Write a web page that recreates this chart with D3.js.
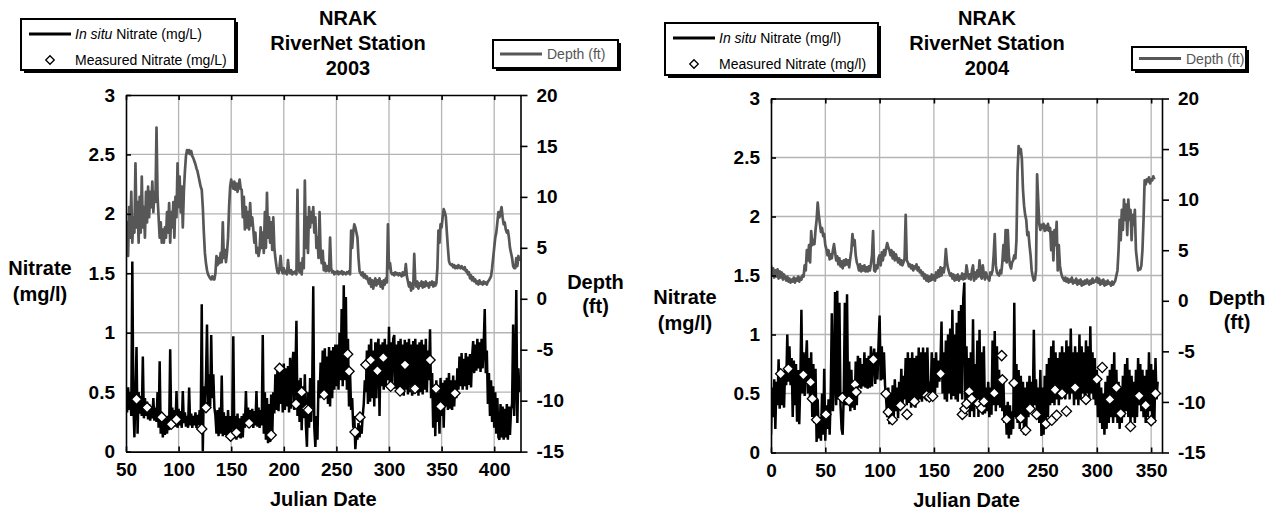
<!DOCTYPE html>
<html lang="en">
<head>
<meta charset="utf-8">
<title>NRAK RiverNet Station</title>
<script src="https://cdn.jsdelivr.net/npm/d3@7/dist/d3.min.js"></script>
<style>
  body { margin: 0; background: #fff; }
  text { font-family: "Liberation Sans", Arial, sans-serif; }
</style>
</head>
<body>
<script>

// ---------- data ----------
var nitrateTicks = [0, 0.5, 1, 1.5, 2, 2.5, 3];
var depthTicks = [-15, -10, -5, 0, 5, 10, 15, 20];
var xTicks2003 = [50, 100, 150, 200, 250, 300, 350, 400];
var xTicks2004 = [0, 50, 100, 150, 200, 250, 300, 350];

// daily readings, first day = start
var start2003 = 50;
var nitrate2003 = [
  0.45,0.33,0.54,0.35,0.50,0.30,1.60,0.40,0.12,0.48,
  0.88,0.15,0.50,0.32,0.47,0.30,0.80,0.28,0.45,0.30,
  0.42,0.27,0.40,0.26,0.38,0.28,0.45,0.26,0.37,0.25,
  0.50,0.20,0.76,0.15,0.32,0.12,0.30,0.14,0.28,0.15,
  0.30,0.18,0.86,0.20,0.37,0.22,0.35,0.21,0.51,0.20,
  0.36,0.22,0.34,0.20,0.51,0.24,0.33,0.21,0.30,0.20,
  0.54,0.22,0.32,0.20,0.30,0.22,0.33,0.20,0.31,0.22,
  0.35,0.22,1.24,0.00,0.55,0.38,0.60,1.07,0.40,0.65,
  0.38,0.98,0.45,0.65,0.37,0.30,0.15,0.35,0.13,0.37,
  0.15,0.64,0.13,0.33,0.14,0.30,0.12,0.35,0.13,0.30,
  0.14,0.25,0.97,0.11,0.30,0.10,0.32,0.12,0.28,0.11,
  0.30,0.12,0.32,0.20,0.51,0.22,0.37,0.20,0.35,0.22,
  0.36,0.20,0.34,0.22,0.51,0.21,0.37,0.20,0.35,0.22,
  0.98,0.15,0.50,0.10,0.45,0.07,0.40,0.08,0.48,0.12,
  0.50,0.32,0.65,0.35,0.70,0.34,0.72,0.40,0.68,0.33,
  0.74,0.35,0.70,0.38,0.72,0.33,0.79,0.36,0.70,0.84,
  0.35,0.65,1.10,0.30,0.60,0.25,0.62,0.18,0.55,0.28,
  0.65,0.22,0.04,0.50,0.20,0.62,0.25,0.55,1.39,0.20,
  0.04,0.30,0.10,0.60,0.45,0.75,0.48,0.85,0.46,0.87,
  0.45,0.80,0.40,0.88,0.38,0.85,0.45,0.88,0.52,0.90,
  0.55,0.90,0.52,1.00,0.60,1.20,0.55,1.40,0.60,1.30,
  0.52,0.95,0.38,0.66,0.35,0.45,0.20,0.30,0.02,0.15,
  0.10,0.24,0.12,0.22,0.15,0.30,0.40,0.60,0.50,0.85,
  0.40,0.90,0.42,0.95,0.45,0.85,0.38,0.92,0.45,0.88,
  0.95,0.30,0.90,0.55,0.92,0.52,0.95,0.55,0.90,0.60,
  1.05,0.52,0.92,0.55,0.95,0.98,0.53,0.90,0.50,0.93,
  0.48,0.95,0.50,0.90,0.47,0.94,0.52,0.92,0.48,0.95,
  0.50,0.90,0.47,0.93,0.55,0.95,0.50,0.90,0.47,0.92,
  0.50,0.94,0.48,0.90,0.52,0.95,0.50,0.85,0.60,1.03,
  0.45,0.66,0.20,0.55,0.13,0.60,0.25,0.50,0.15,0.62,
  0.30,0.58,0.20,0.60,0.38,0.62,0.35,0.66,0.36,0.60,
  0.35,0.64,0.38,0.60,0.45,0.70,0.52,0.80,0.55,0.83,
  0.52,0.78,0.55,0.83,0.52,0.80,0.56,0.82,0.54,0.80,
  0.93,0.66,0.90,0.68,0.95,0.70,0.92,0.67,0.95,0.70,
  0.90,1.20,0.66,0.85,0.40,0.66,0.30,0.60,0.25,0.55,
  0.20,0.50,0.15,0.45,0.12,0.10,0.40,0.12,0.38,0.10,
  0.36,0.12,0.40,0.10,0.38,0.14,0.35,0.40,1.07,0.30,
  0.60,1.36,0.24,0.70,0.50
];
var depth2003 = [
  5.0,7.5,4.2,9.0,6.0,10.5,5.5,8.0,6.5,13.3,
  7.0,9.5,5.5,10.0,6.5,12.0,7.0,9.0,6.0,10.5,
  7.5,11.0,8.0,10.5,9.0,11.5,8.5,10.5,9.5,16.8,
  10.0,8.0,6.0,7.5,5.5,6.8,5.5,7.0,6.0,8.5,
  6.5,9.4,5.5,8.5,7.0,9.5,6.0,10.0,8.0,13.3,
  9.0,12.0,8.5,11.0,7.0,10.5,12.5,14.0,14.6,14.3,
  14.6,14.2,14.5,14.0,13.8,13.5,13.2,12.8,12.5,12.0,
  11.5,11.0,10.7,9.0,6.5,4.5,3.5,2.8,2.4,2.2,
  2.0,1.9,2.2,1.9,1.9,2.5,4.2,3.3,4.0,3.5,
  4.5,3.6,7.5,4.0,4.8,3.6,4.5,6.0,9.0,11.0,
  11.7,11.2,10.8,11.5,10.7,11.3,10.5,11.0,11.7,10.8,
  10.7,8.0,10.0,6.8,9.0,7.0,8.5,6.8,9.4,7.2,
  8.0,6.8,5.5,6.5,4.5,5.0,4.2,4.8,7.0,5.0,
  6.5,4.5,8.5,5.0,10.4,6.0,8.0,5.5,7.5,4.8,
  8.0,5.0,4.0,3.2,2.6,2.5,3.2,4.2,2.8,2.5,
  3.0,2.5,2.7,2.4,3.8,2.6,2.5,2.8,2.4,2.6,
  2.5,2.7,2.4,10.7,3.0,2.6,3.5,2.4,4.0,3.0,
  11.6,5.0,8.0,4.5,9.0,7.0,8.5,7.5,9.0,6.5,
  8.0,5.0,6.0,4.0,8.5,4.5,3.5,4.7,2.8,3.5,
  2.7,3.2,2.8,2.7,6.0,3.0,2.6,2.7,2.4,2.6,
  2.5,2.7,2.4,2.6,2.5,2.7,2.4,2.6,2.5,2.4,
  2.6,2.5,2.7,2.4,6.7,5.0,6.5,7.3,7.0,6.5,
  6.0,4.0,2.7,2.5,2.3,2.6,2.1,2.4,2.0,2.2,
  1.8,1.5,2.0,1.2,1.8,1.0,1.6,2.0,1.3,1.8,
  1.5,2.0,1.2,1.7,1.0,1.8,1.4,2.0,1.6,7.3,
  3.0,3.5,2.6,2.4,2.5,2.3,2.6,2.4,2.5,2.3,
  2.5,2.4,2.2,2.6,2.3,2.4,3.4,2.2,1.7,1.2,
  1.6,0.8,1.5,1.0,4.4,1.6,1.2,1.7,1.0,1.5,
  1.3,1.7,1.1,1.6,1.2,1.7,1.3,1.5,1.1,1.6,
  1.4,1.7,1.2,1.6,1.3,1.5,3.0,6.7,5.5,7.3,
  7.0,8.0,8.8,8.5,8.1,6.5,5.0,3.7,3.4,3.3,
  3.4,3.1,3.3,3.0,3.2,3.0,3.3,3.1,3.0,3.2,
  3.0,2.9,3.1,2.7,2.8,2.4,2.6,2.0,2.3,1.8,
  2.1,1.7,1.9,1.5,1.7,1.4,1.8,1.5,1.6,1.4,
  1.7,1.5,1.6,1.4,1.7,1.8,2.0,2.2,3.0,4.0,
  5.0,6.0,6.5,7.5,8.5,8.0,8.5,9.0,8.0,7.3,
  7.5,6.8,6.5,6.7,6.0,5.0,4.5,4.0,3.2,3.0,
  3.0,4.0,3.2,4.2,3.7
];
var measuredDay2003 = [60, 70, 84, 93, 98, 122, 126, 149.5, 155, 167, 188, 196, 211.6, 217, 221.7, 223.3,
  238.3, 260.7, 262, 267.7, 272.4, 278, 282.6, 289, 294.6, 301.6, 310.5, 315.2, 323, 324.7, 339, 344.7, 349, 362.7];
var measuredVal2003 = [0.44, 0.37, 0.29, 0.23, 0.27, 0.19, 0.37, 0.13, 0.16, 0.24, 0.14, 0.70, 0.40, 0.50, 0.36, 0.35,
  0.48, 0.82, 0.675, 0.165, 0.29, 0.73, 0.77, 0.68, 0.79, 0.55, 0.51, 0.73, 0.53, 0.53, 0.77, 0.53, 0.38, 0.49];

var start2004 = 0;
var nitrate2004 = [
  0.15,0.55,0.30,0.62,0.20,0.60,0.40,0.79,0.37,0.70,
  0.40,0.68,0.38,0.71,0.57,1.00,0.60,0.90,0.57,0.80,
  0.30,0.78,0.40,0.75,0.26,0.70,0.24,0.60,1.21,0.50,
  0.85,0.48,0.75,0.95,0.50,0.80,0.45,0.85,0.30,0.75,
  0.25,0.71,0.09,0.45,0.12,0.30,0.10,0.50,0.15,0.71,
  0.10,0.40,0.20,0.45,0.15,0.50,1.18,0.35,0.60,1.36,
  0.40,1.37,0.45,1.27,0.40,0.20,0.15,0.50,1.27,0.40,
  1.34,0.40,0.77,0.35,0.70,0.38,0.60,0.36,0.77,0.40,
  0.82,0.55,0.80,0.54,0.75,0.56,0.85,0.55,0.80,0.54,
  0.82,0.55,0.90,0.56,0.80,0.88,0.58,0.85,0.62,0.92,
  1.16,0.61,0.90,0.62,0.85,0.57,0.45,0.30,0.55,0.24,
  0.50,0.28,0.57,0.30,0.62,0.35,0.55,0.29,0.60,0.40,
  0.71,0.38,0.65,0.45,0.80,0.40,0.85,0.42,0.80,0.38,
  0.85,0.45,0.80,0.38,0.82,0.43,0.89,0.45,0.85,0.43,
  0.89,0.50,0.85,0.45,0.89,0.50,0.60,0.46,0.85,0.45,
  0.80,0.50,0.85,0.55,0.78,0.60,0.75,1.11,0.50,0.85,
  0.45,0.95,0.43,1.00,0.50,1.05,0.45,1.21,0.48,1.00,
  0.45,1.10,0.43,1.20,0.50,1.25,0.45,1.30,1.44,0.40,
  0.90,0.35,0.80,0.30,0.85,0.35,1.13,0.30,0.75,0.40,
  0.95,0.30,1.04,0.35,0.85,0.32,0.90,0.33,0.55,0.35,
  0.60,0.30,0.55,0.32,0.95,0.40,1.03,0.35,0.90,0.40,
  0.70,0.38,0.65,0.35,0.60,0.25,0.40,0.15,0.43,0.12,
  0.40,0.15,0.35,0.20,1.27,0.30,0.75,0.25,0.70,0.20,
  0.65,0.25,0.60,0.15,0.55,0.20,0.60,0.30,0.65,0.35,
  0.60,0.35,1.04,0.40,0.62,0.30,0.55,0.25,0.70,0.14,
  0.55,0.15,0.65,0.20,0.75,0.30,0.80,0.40,0.90,0.42,
  0.95,0.40,0.85,0.45,0.80,0.40,0.85,0.45,0.90,0.50,
  0.85,0.45,0.95,0.50,0.90,0.45,1.05,0.50,0.85,0.40,
  0.90,0.45,0.85,0.40,1.00,0.45,0.90,0.50,0.85,0.45,
  0.95,0.50,0.90,0.45,1.07,0.50,0.85,0.45,0.80,0.40,
  0.70,0.30,0.60,0.25,0.55,0.20,0.50,0.15,0.60,0.20,
  0.65,0.25,0.70,0.30,0.75,0.25,0.85,0.30,0.70,0.25,
  0.60,0.20,0.55,0.25,0.65,0.30,0.75,0.35,0.80,0.30,
  0.70,0.25,0.65,0.30,0.60,0.25,0.70,0.30,0.80,0.40,
  0.75,0.35,0.70,0.30,0.65,0.25,0.70,0.30,0.85,0.35,
  0.75,0.30,0.70,0.25,0.80,0.45,0.60
];
var depth2004 = [
  3.5,2.5,3.2,2.3,3.0,2.4,3.1,2.2,2.9,2.3,
  2.8,2.1,2.6,2.3,2.0,2.4,1.9,2.2,1.8,2.1,
  1.9,2.3,1.8,2.2,2.0,2.4,1.9,2.3,2.1,2.5,
  2.4,3.5,3.0,5.0,4.0,5.5,3.8,6.9,5.5,6.0,
  5.6,7.0,8.0,9.7,8.5,7.6,6.8,7.2,6.4,6.6,
  5.5,5.1,4.5,5.0,4.1,4.6,4.2,5.0,5.6,4.8,
  4.0,4.4,3.6,4.2,3.4,3.9,3.2,4.0,3.5,4.1,
  3.6,4.0,3.3,4.2,5.0,6.6,5.5,6.0,4.5,3.8,
  3.5,3.0,3.6,2.9,3.4,3.0,3.5,2.9,3.3,2.9,
  3.4,3.0,3.6,4.5,6.9,3.0,2.9,3.5,3.2,4.2,
  4.5,3.5,4.8,4.0,5.0,4.5,5.2,5.7,5.3,5.0,
  4.5,5.0,4.2,4.8,4.0,4.6,4.2,3.8,4.2,3.6,
  4.0,3.5,3.8,4.2,8.5,4.0,3.8,3.4,3.6,3.2,
  3.5,3.0,3.4,3.2,3.6,3.0,3.3,2.8,3.0,2.5,
  2.8,2.2,2.6,2.0,2.5,1.9,2.4,2.0,2.6,2.1,
  2.5,2.0,2.8,2.3,3.0,2.4,3.3,2.5,3.2,2.8,
  3.5,5.1,3.8,3.2,2.8,2.5,2.7,2.2,2.6,2.0,
  2.5,2.1,2.6,2.0,2.4,2.2,2.7,2.1,2.6,2.2,
  3.5,2.8,2.2,2.6,2.1,3.0,3.5,2.0,2.8,2.2,
  3.0,2.4,4.0,2.5,2.2,3.5,2.6,2.1,2.8,2.4,
  2.2,2.0,2.8,2.6,3.0,4.5,6.6,3.5,2.8,2.6,
  2.5,3.0,2.7,3.8,5.5,4.0,7.0,3.8,7.0,4.5,
  3.5,3.2,3.8,4.0,4.5,4.2,6.0,12.7,15.3,14.6,
  15.0,14.0,11.0,9.4,8.5,8.0,6.5,6.8,5.5,4.5,
  3.0,2.4,2.0,2.1,3.0,12.5,10.0,7.6,7.0,7.5,
  7.2,7.6,6.9,7.4,7.0,7.6,6.9,7.2,5.0,6.8,
  4.0,7.0,5.5,7.8,3.0,5.5,3.5,2.8,2.4,2.2,
  2.0,2.3,1.9,2.2,1.8,2.1,1.9,2.3,1.7,2.0,
  1.8,2.2,1.6,2.0,1.7,2.1,1.5,1.9,1.6,2.0,
  1.7,2.1,1.8,1.6,2.0,1.7,2.2,1.8,2.0,1.9,
  2.3,1.8,2.2,1.6,2.0,1.7,2.1,1.5,1.9,1.6,
  2.0,1.7,1.8,1.5,1.9,1.6,1.8,2.0,2.5,3.0,
  5.0,8.0,6.0,9.0,7.0,10.0,8.0,9.5,6.5,10.0,
  8.0,9.0,6.0,8.5,7.5,9.0,5.0,4.0,3.0,3.2,
  3.1,3.5,5.0,8.0,11.9,11.5,12.0,11.8,12.2,11.6,
  12.0,11.9,12.3,12.0
];
var measuredDay2004 = [8.9, 16, 29.8, 36.5, 38.1, 42, 50.6, 65.7, 71.8, 77.3, 78.3, 94.2, 105.9, 108, 111.7, 119.1,
  125.2, 132, 143.3, 145.8, 148.9, 156.2, 176.2, 178.6, 180.2, 182.6, 184.8, 190.9, 194, 196.1, 205.6, 212.4, 213,
  217, 223.8, 229.9, 234.5, 238.5, 244.6, 253.2, 258.5, 261.5, 263,
  268, 272, 280, 290, 300, 305, 312, 318, 322, 331, 339, 345, 350, 354];
var measuredVal2004 = [0.667, 0.709, 0.658, 0.596, 0.456, 0.278, 0.323, 0.464, 0.44, 0.577, 0.512, 0.788, 0.498, 0.343,
  0.278, 0.399, 0.323, 0.433, 0.484, 0.47, 0.477, 0.667, 0.323, 0.371, 0.414, 0.518, 0.456, 0.414, 0.377, 0.433,
  0.503, 0.821, 0.616, 0.281, 0.588, 0.292, 0.188, 0.371, 0.323, 0.245, 0.273, 0.532, 0.315,
  0.50, 0.35, 0.55, 0.45, 0.62, 0.72, 0.45, 0.55, 0.33, 0.22, 0.48, 0.40, 0.27, 0.50];

// ---------- drawing ----------
var svg = d3.select("body").append("svg")
    .attr("width", 1269)
    .attr("height", 514);

var gridColor = "#b4b4b4",
    depthColor = "#575757";

function legendBox(x, y, w, h) {
  svg.append("rect").attr("x", x + 3).attr("y", y + 3).attr("width", w).attr("height", h).attr("fill", "#000");
  svg.append("rect").attr("x", x).attr("y", y).attr("width", w).attr("height", h)
     .attr("fill", "#fff").attr("stroke", "#000").attr("stroke-width", 2);
}

function drawPanel(p) {
  var xScale = d3.scaleLinear().domain(p.xDomain).range([p.left, p.right]);
  var yN = d3.scaleLinear().domain([0, 3]).range([p.bottom, p.top]);
  var yD = d3.scaleLinear().domain([-15, 20]).range([p.bottom, p.top]);

  var g = svg.append("g");

  // grid
  g.selectAll(".vgrid").data(p.xTicks.filter(function (d) { return d !== p.xDomain[0]; }))
    .enter().append("line")
      .attr("x1", function (d) { return xScale(d); }).attr("x2", function (d) { return xScale(d); })
      .attr("y1", p.top).attr("y2", p.bottom)
      .attr("stroke", gridColor).attr("stroke-width", 1.3);
  g.selectAll(".hgrid").data(nitrateTicks.slice(1, -1))
    .enter().append("line")
      .attr("x1", p.left).attr("x2", p.right)
      .attr("y1", function (d) { return yN(d); }).attr("y2", function (d) { return yN(d); })
      .attr("stroke", gridColor).attr("stroke-width", 1.3);

  var clipId = "clip" + p.id;
  svg.append("defs").append("clipPath").attr("id", clipId)
    .append("rect").attr("x", p.left).attr("y", p.top - 2)
    .attr("width", p.right - p.left).attr("height", p.bottom - p.top + 2);

  var plot = g.append("g").attr("clip-path", "url(#" + clipId + ")");

  var depthLine = d3.line()
      .x(function (d, i) { return xScale(p.start + i); })
      .y(function (d) { return yD(d); });
  plot.append("path").datum(p.depth)
      .attr("d", depthLine)
      .attr("fill", "none").attr("stroke", depthColor).attr("stroke-width", 2.7)
      .attr("stroke-linejoin", "round");

  var nitLine = d3.line()
      .x(function (d, i) { return xScale(p.start + i); })
      .y(function (d) { return yN(d); });
  plot.append("path").datum(p.nitrate)
      .attr("d", nitLine)
      .attr("fill", "none").attr("stroke", "#000").attr("stroke-width", 2.5)
      .attr("stroke-linejoin", "miter");

  var diamond = d3.symbol().type(d3.symbolSquare).size(52);
  g.selectAll(".meas").data(p.mDay)
    .enter().append("path")
      .attr("d", diamond)
      .attr("transform", function (d, i) {
        return "translate(" + xScale(d) + "," + yN(p.mVal[i]) + ") rotate(45)";
      })
      .attr("fill", "#fff").attr("stroke", "#000").attr("stroke-width", 1.3);

  // axes
  var bottomAxis = d3.axisBottom(xScale).tickValues(p.xTicks).tickSizeInner(-5).tickSizeOuter(0).tickPadding(11);
  var topAxis = d3.axisTop(xScale).tickValues(p.xTicks).tickSizeInner(-5).tickSizeOuter(0).tickFormat("");
  var leftAxis = d3.axisLeft(yN).tickValues(nitrateTicks).tickSizeInner(-5).tickSizeOuter(0).tickPadding(11)
      .tickFormat(function (d) { return String(d); });
  var rightAxis = d3.axisRight(yD).tickValues(depthTicks).tickSizeInner(7).tickSizeOuter(0).tickPadding(9)
      .tickFormat(function (d) { return String(d); });

  var axes = [
    g.append("g").attr("transform", "translate(0," + p.bottom + ")").call(bottomAxis),
    g.append("g").attr("transform", "translate(0," + p.top + ")").call(topAxis),
    g.append("g").attr("transform", "translate(" + p.left + ",0)").call(leftAxis),
    g.append("g").attr("transform", "translate(" + p.right + ",0)").call(rightAxis)
  ];
  axes.forEach(function (a) {
    a.selectAll("path, line").attr("stroke", "#000").attr("stroke-width", 1.6);
    a.selectAll("text").attr("font-size", 19).attr("font-weight", "bold").attr("fill", "#000")
      .attr("font-family", "'Liberation Sans', Arial, sans-serif");
  });

  // titles
  var title = svg.append("text").attr("text-anchor", "middle")
      .attr("font-size", 20).attr("font-weight", "bold");
  p.title.forEach(function (t, i) {
    title.append("tspan").attr("x", p.titleX).attr("y", 25 + i * 25).text(t);
  });

  svg.append("text").attr("x", (p.left + p.right) / 2).attr("y", p.bottom + 54)
      .attr("text-anchor", "middle").attr("font-size", 20).attr("font-weight", "bold").text("Julian Date");

  var nl = svg.append("text").attr("text-anchor", "middle").attr("font-size", 20).attr("font-weight", "bold");
  nl.append("tspan").attr("x", p.left - 86).attr("y", p.nitLabelY).text("Nitrate");
  nl.append("tspan").attr("x", p.left - 86).attr("y", p.nitLabelY + 26).text("(mg/l)");

  var dl = svg.append("text").attr("text-anchor", "middle").attr("font-size", 20).attr("font-weight", "bold");
  dl.append("tspan").attr("x", p.right + 75).attr("y", p.depthLabelY).text("Depth");
  dl.append("tspan").attr("x", p.right + 75).attr("y", p.depthLabelY + 24).text("(ft)");

  // nitrate legend
  var L = p.legN;
  legendBox(L.x, L.y, L.w, L.h);
  svg.append("line").attr("x1", L.x + 8).attr("x2", L.x + 50)
     .attr("y1", L.y + 15).attr("y2", L.y + 15).attr("stroke", "#000").attr("stroke-width", 3);
  var t1 = svg.append("text").attr("x", L.x + 54).attr("y", L.y + 20).attr("font-size", 14);
  t1.append("tspan").attr("font-style", "italic").text("In situ");
  t1.append("tspan").text(" Nitrate (" + p.unit + ")");
  svg.append("path").attr("d", d3.symbol().type(d3.symbolSquare).size(36))
     .attr("transform", "translate(" + (L.x + 29) + "," + (L.y + 41) + ") rotate(45)")
     .attr("fill", "#fff").attr("stroke", "#000").attr("stroke-width", 1.3);
  svg.append("text").attr("x", L.x + 54).attr("y", L.y + 46).attr("font-size", 14)
     .text("Measured Nitrate (" + p.unit + ")");

  // depth legend
  var D = p.legD;
  legendBox(D.x, D.y, D.w, D.h);
  svg.append("line").attr("x1", D.x + 7).attr("x2", D.x + 49)
     .attr("y1", D.y + D.h / 2).attr("y2", D.y + D.h / 2).attr("stroke", depthColor).attr("stroke-width", 3);
  svg.append("text").attr("x", D.x + 54).attr("y", D.y + D.h / 2 + 5).attr("font-size", 14)
     .attr("fill", "#555").text("Depth (ft)");
}

drawPanel({
  id: "a", left: 126, right: 520.5, top: 95, bottom: 451.6,
  xDomain: [50, 425], xTicks: xTicks2003, start: start2003,
  nitrate: nitrate2003, depth: depth2003, mDay: measuredDay2003, mVal: measuredVal2003,
  title: ["NRAK", "RiverNet Station", "2003"], titleX: 348,
  nitLabelY: 275, depthLabelY: 289, unit: "mg/L",
  legN: { x: 21, y: 19, w: 214, h: 51 },
  legD: { x: 493, y: 40, w: 125, h: 28 }
});

drawPanel({
  id: "b", left: 771, right: 1162, top: 98.5, bottom: 452.5,
  xDomain: [0, 360], xTicks: xTicks2004, start: start2004,
  nitrate: nitrate2004, depth: depth2004, mDay: measuredDay2004, mVal: measuredVal2004,
  title: ["NRAK", "RiverNet Station", "2004"], titleX: 987,
  nitLabelY: 304, depthLabelY: 305, unit: "mg/l",
  legN: { x: 665, y: 23, w: 213, h: 52 },
  legD: { x: 1132, y: 47, w: 114, h: 23 }
});

</script>
</body>
</html>
